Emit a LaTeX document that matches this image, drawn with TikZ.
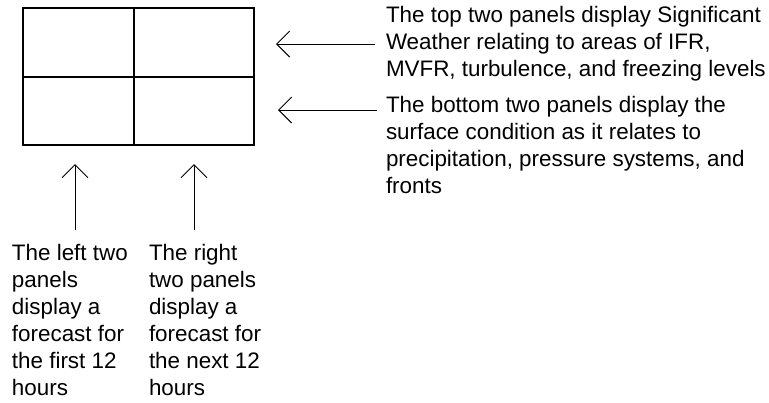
\documentclass[tikz,border=0pt]{standalone}
\usepackage{fontspec}
\setmainfont{Liberation Sans}
\usepackage{tikz}
\usetikzlibrary{positioning}
\usetikzlibrary{arrows.meta}
\tikzset{panel node/.style={rectangle,draw,line width=2pt,outer sep=0pt,inner sep=0pt},}
\tikzset{note node/.style={align=left,inner sep=0pt,outer sep=0pt,font=\fontsize{22.4pt}{27pt}\selectfont},}

\begin{document}
\begin{tikzpicture}[->, >={Straight Barb[length=13pt,width=26pt]}, line width=1pt]
	\useasboundingbox (0,0) rectangle (769pt,-402pt);
	% the four panels
	\node[panel node, minimum width=111pt, minimum height=69pt] (tl) at (78.5pt,-42.5pt) {};
	\node[panel node, minimum width=120pt, minimum height=69pt] (tr) [right = 0pt of tl] {};
	\node[panel node, minimum width=111pt, minimum height=68pt] (bl) [below = 0pt of tl] {};
	\node[panel node, minimum width=120pt, minimum height=68pt] (br) [right = 0pt of bl] {};

	\node[note node] (toptext) [below right = -1.4pt and 132pt of tr.north east]
		{The top two panels display Significant\\Weather relating to areas of IFR,\\MVFR, turbulence, and freezing levels};
	\node[note node] (bottext) [below right = 18.9pt and 132pt of br.north east]
		{The bottom two panels display the\\surface condition as it relates to\\precipitation, pressure systems, and\\fronts};
	\node[note node] (lefttext) [below right = 99.6pt and -11pt of bl.south west]
		{The left two\\panels\\display a\\forecast for\\the first 12\\hours};
	\node[note node] (righttext) [below right = 99.6pt and 15pt of br.south west]
		{The right\\two panels\\display a\\forecast for\\the next 12\\hours};

	\coordinate (botin) at ([yshift=-14.1pt]bottext.north west);
	\coordinate (lfoot) at ([xshift=-3.5pt]bl.south);

	\draw[shorten <=11pt, shorten >=22pt] (toptext.west) -- (toptext.west -| tr.east);
	\draw[shorten <=9pt, shorten >=24pt] (botin) -- (botin -| br.east);
	\draw[shorten <=15pt, shorten >=19pt] (lefttext.north -| lfoot) -- (lfoot);
	\draw[shorten <=15pt, shorten >=19pt] (righttext.north -| br.south) -- (br.south);
\end{tikzpicture}
\end{document}
